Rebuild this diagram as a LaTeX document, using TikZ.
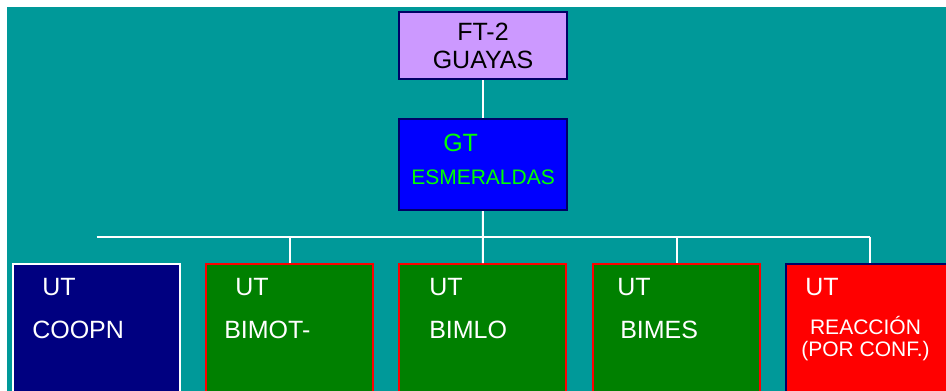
\documentclass[tikz,border=0pt]{standalone}
\usepackage{fontspec}
\setmainfont{Liberation Sans}

\definecolor{tealbg}{RGB}{0,153,153}
\definecolor{lavender}{RGB}{204,153,255}
\definecolor{navyline}{RGB}{0,0,102}
\definecolor{navyfill}{RGB}{0,0,128}
\definecolor{unitgreen}{RGB}{0,128,0}

\begin{document}
\begin{tikzpicture}[x=0.75pt, y=-0.75pt,
  box/.style={draw, line width=1.5pt, inner sep=0pt, minimum width=125.25pt},
  unit/.style={box, anchor=north, minimum height=150pt},
  big/.style={font=\fontsize{18.75}{21}\selectfont},
  small/.style={font=\fontsize{15.75}{17}\selectfont},
  txt/.style={inner sep=0pt, anchor=base west},
  link/.style={draw=white, line width=1.5pt}]

% Background
\useasboundingbox (0,0) rectangle (946,390);
\clip (0,0) rectangle (946,390);
\fill[white] (0,0) rectangle (946,390);
\fill[tealbg] (7,7) rectangle (960,420);

% Command boxes
\node[box, draw=navyline, fill=lavender, minimum width=126pt, minimum height=50.25pt,
  big, align=center] (ft) at (483,45.5) {FT-2\\GUAYAS};
\node[box, draw=navyline, fill=blue, minimum width=126pt, minimum height=68.25pt]
  (gt) at (483,164.5) {};

% Unit boxes
\node[unit, draw=white, fill=navyfill] (coopn) at (96.5,263) {};
\node[unit, draw=red, fill=unitgreen] (bimot) at (289.5,263) {};
\node[unit, draw=red, fill=unitgreen] (bimlo) at (482.5,263) {};
\node[unit, draw=red, fill=unitgreen] (bimes) at (676.5,263) {};
\node[unit, draw=navyline, fill=red] (reac) at (869.5,263) {};

% Links
\coordinate (busL) at (96.5,237);
\coordinate (busR) at (869.5,237);
\draw[link] (ft) -- (gt);
\draw[link] (busL) -- (busR);
\draw[link] (gt) -- (bimlo);
\draw[link] (bimot.north |- busL) -- (bimot);
\draw[link] (bimes.north |- busL) -- (bimes);
\draw[link] (busR) -- (reac);

% Labels
\node[txt, big, text=green] (gtA) at (443,151) {GT};
\node[txt, small, text=green] (gtB) at (411,184) {ESMERALDAS};

\node[txt, big, text=white] (coopnA) at (42,295) {UT};
\node[txt, big, text=white] (coopnB) at (32,338) {COOPN};
\node[txt, big, text=white] (bimotA) at (235,295) {UT};
\node[txt, big, text=white] (bimotB) at (224,338) {BIMOT-};
\node[txt, big, text=white] (bimloA) at (429,295) {UT};
\node[txt, big, text=white] (bimloB) at (429,338) {BIMLO};
\node[txt, big, text=white] (bimesA) at (617,295) {UT};
\node[txt, big, text=white] (bimesB) at (620,338) {BIMES};
\node[txt, big, text=white] (reacA) at (805,295) {UT};
\node[inner sep=0pt, anchor=base, small, text=white] (reacB) at (865.5,334) {REACCIÓN};
\node[inner sep=0pt, anchor=base, small, text=white] (reacC) at (865.5,356) {(POR CONF.)};

\end{tikzpicture}
\end{document}
